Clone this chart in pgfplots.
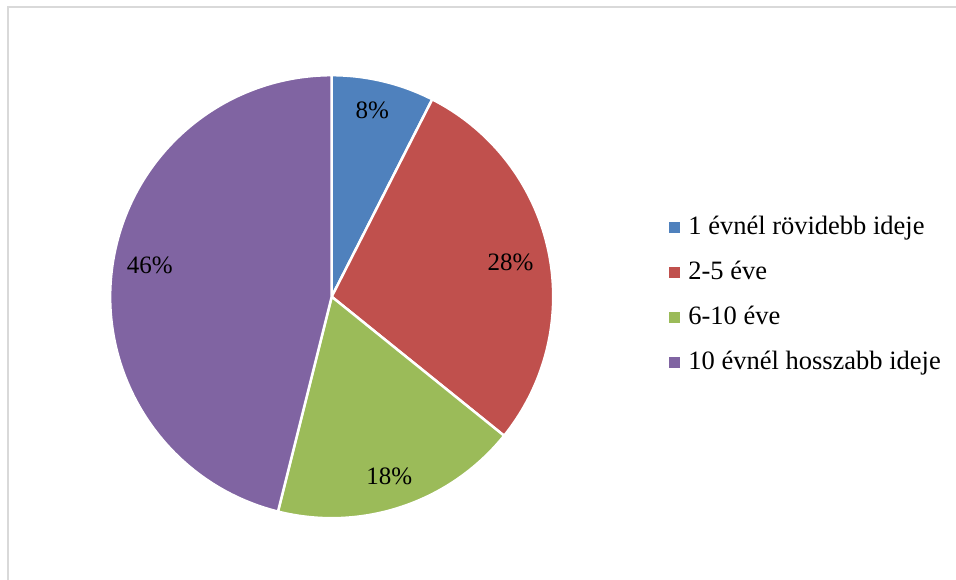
\documentclass[border=0pt]{standalone}
\usepackage{pgfplots}
\pgfplotsset{compat=1.18}
\usepackage{fontspec}
\setmainfont{Liberation Serif}

\definecolor{pieblue}{HTML}{4F81BD}
\definecolor{piered}{HTML}{C0504D}
\definecolor{piegreen}{HTML}{9BBB59}
\definecolor{piepurple}{HTML}{8064A2}
\definecolor{framegray}{HTML}{D9D9D9}

% shares in percent, clockwise from 12 o'clock
\def\sA{7.5}
\def\sB{28.3}
\def\sC{18.1}
\def\sD{46.1}
\pgfmathsetmacro\aA{90}
\pgfmathsetmacro\aB{\aA-3.6*\sA}
\pgfmathsetmacro\aC{\aB-3.6*\sB}
\pgfmathsetmacro\aD{\aC-3.6*\sC}
\pgfmathsetmacro\aE{\aD-3.6*\sD}

\def\cx{331.7}
\def\cy{282.3}
\def\rr{221.5pt}

\begin{document}
\begin{tikzpicture}
	\begin{axis}[x=1pt,y=1pt,
		xmin=0,xmax=956,ymin=0,ymax=579,
		anchor=origin,at={(0,0)},
		hide axis,clip=false,
		legend style={at={(axis cs:669,283.5)},anchor=west,
			draw=none,fill=none,inner sep=0pt,outer sep=0pt,
			row sep=20pt,column sep=9pt,
			font=\fontsize{26.5}{30}\selectfont,
			nodes={inner sep=0pt,text height=19pt,text depth=6pt}},
		legend cell align=left]
		\addlegendimage{legend image code/.code={\fill[pieblue] (0pt,-4pt) rectangle (10pt,6pt);}}
		\addlegendentry{1 évnél rövidebb ideje}
		\addlegendimage{legend image code/.code={\fill[piered] (0pt,-4pt) rectangle (10pt,6pt);}}
		\addlegendentry{2-5 éve}
		\addlegendimage{legend image code/.code={\fill[piegreen] (0pt,-4pt) rectangle (10pt,6pt);}}
		\addlegendentry{6-10 éve}
		\addlegendimage{legend image code/.code={\fill[piepurple] (0pt,-4pt) rectangle (10pt,6pt);}}
		\addlegendentry{10 évnél hosszabb ideje}

		% chart frame (only top and left edge are inside the picture)
		\draw[framegray,line width=2pt] (axis cs:7.5,-20) -- (axis cs:7.5,571.5) -- (axis cs:990,571.5);

		\filldraw[fill=pieblue,draw=white,line width=2.5pt,line join=round] (axis cs:\cx,\cy) -- ++(\aA:\rr) arc[start angle=\aA,end angle=\aB,radius=\rr] -- cycle;
		\filldraw[fill=piered,draw=white,line width=2.5pt,line join=round] (axis cs:\cx,\cy) -- ++(\aB:\rr) arc[start angle=\aB,end angle=\aC,radius=\rr] -- cycle;
		\filldraw[fill=piegreen,draw=white,line width=2.5pt,line join=round] (axis cs:\cx,\cy) -- ++(\aC:\rr) arc[start angle=\aC,end angle=\aD,radius=\rr] -- cycle;
		\filldraw[fill=piepurple,draw=white,line width=2.5pt,line join=round] (axis cs:\cx,\cy) -- ++(\aD:\rr) arc[start angle=\aD,end angle=\aE,radius=\rr] -- cycle;

		\begin{scope}[every node/.style={font=\fontsize{25}{30}\selectfont,inner sep=0pt}]
			\node at (axis cs:372.3,468.3) {8\%};
			\node at (axis cs:510.5,316.3) {28\%};
			\node at (axis cs:389.3,102.3) {18\%};
			\node at (axis cs:149.7,314) {46\%};
		\end{scope}
	\end{axis}
	\pgfresetboundingbox
	\path (0,0) rectangle (956pt,579pt);
\end{tikzpicture}
\end{document}
